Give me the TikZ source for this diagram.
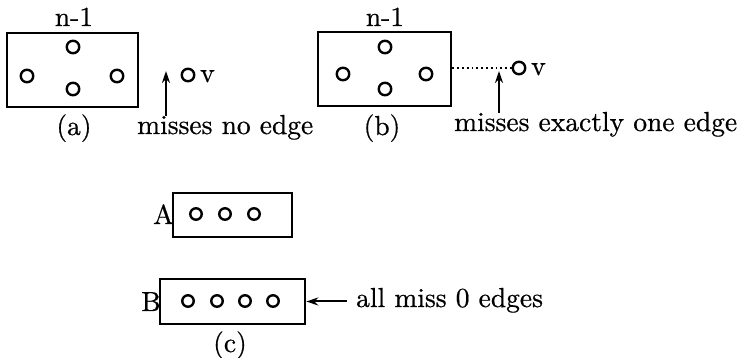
\documentclass[tikz,border=0pt]{standalone}
\usepackage{fontspec}
\setmainfont{lmroman10-regular.otf}[FakeBold=0.6]
\usetikzlibrary{arrows.meta}
\begin{document}
\begin{tikzpicture}[x=1pt,y=-1pt,
  box/.style={draw,line width=2.6pt,rectangle,inner sep=0pt},
  vtx/.style={draw,line width=2.4pt,circle,inner sep=0pt,minimum size=12.5pt},
  lbl/.style={inner sep=0pt,font=\fontsize{27.5}{32}\selectfont},
  ptr/.style={line width=2pt,-{Stealth[length=12pt,width=8pt]}},
  dotline/.style={line width=2pt,dash pattern=on 1.8pt off 3pt}]
\useasboundingbox (0,0) rectangle (740,358);
% (a)
\node[box,minimum width=131pt,minimum height=74pt] (boxa) at (72.5,70) {};
\node[lbl,anchor=base] (na) at (74,26) {n-1};
\node[vtx] (a1) at (73,47) {};
\node[vtx] (a2) at (27,76) {};
\node[vtx] (a3) at (117,76) {};
\node[vtx] (a4) at (73,89) {};
\node[vtx] (av) at (188,75) {};
\node[lbl,anchor=base west] (avl) at (200,82) {v};
\node[lbl,anchor=base] (capa) at (74,135) {(a)};
\node[lbl,anchor=base west] (ta) at (137,134) {misses no edge};
\coordinate (atail) at (166,116);
\coordinate (atip) at (166,71);
\draw[ptr] (atail) -- (atip);
% (b)
\node[box,minimum width=133pt,minimum height=74pt] (boxb) at (384.5,69) {};
\node[lbl,anchor=base] (nb) at (385,26) {n-1};
\node[vtx] (b1) at (385,47) {};
\node[vtx] (b2) at (343,74) {};
\node[vtx] (b3) at (426,74) {};
\node[vtx] (b4) at (385,89) {};
\node[vtx] (bv) at (519,68) {};
\node[lbl,anchor=base west] (bvl) at (531,75) {v};
\node[lbl,anchor=base] (capb) at (382,135) {(b)};
\node[lbl,anchor=base west] (tb) at (454,131) {misses exactly one edge};
\draw[dotline] (boxb.east |- bv) -- (bv.west);
\coordinate (btail) at (499,113);
\coordinate (btip) at (499,71);
\draw[ptr] (btail) -- (btip);
% (c)
\node[box,minimum width=119pt,minimum height=44pt] (boxA) at (232.5,215) {};
\node[lbl,anchor=base east] (lA) at (174,224) {A};
\node[vtx,minimum size=11.5pt] (A1) at (196,214) {};
\node[vtx,minimum size=11.5pt] (A2) at (225,214) {};
\node[vtx,minimum size=11.5pt] (A3) at (254,214) {};
\node[box,minimum width=145pt,minimum height=45pt] (boxB) at (232.5,301.5) {};
\node[lbl,anchor=base east] (lB) at (161,311) {B};
\node[vtx,minimum size=11.5pt] (B1) at (188,301) {};
\node[vtx,minimum size=11.5pt] (B2) at (217,301) {};
\node[vtx,minimum size=11.5pt] (B3) at (245,301) {};
\node[vtx,minimum size=11.5pt] (B4) at (273,301) {};
\node[lbl,anchor=base west] (tc) at (356,307) {all miss 0 edges};
\coordinate (ctail) at (347,301.5);
\draw[ptr] (ctail) -- (boxB.east);
\node[lbl,anchor=base] (capc) at (230,352) {(c)};
\end{tikzpicture}
\end{document}
